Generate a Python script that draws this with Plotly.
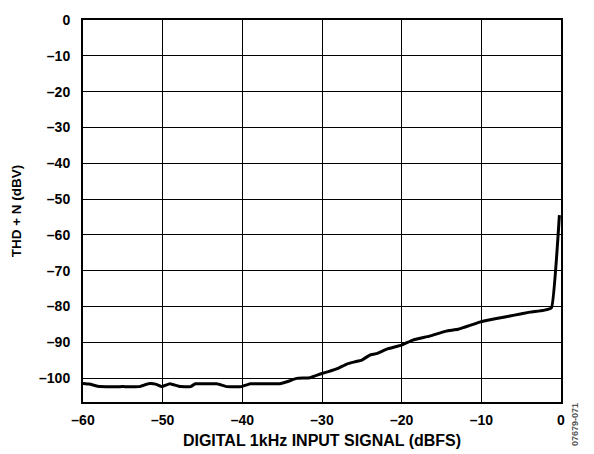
import plotly.graph_objects as go

x_dbfs = [-60, -59.2, -57.9, -55, -52.9, -51.8, -50.9, -50.1, -49.1, -47.8, -46.5, -45.9, -44.9, -43.2, -42, -40.1,
          -39, -37, -35.3, -34.2, -33.2, -31.5, -30.1, -29.2, -28, -26.9, -25.9, -25, -24, -23.2, -21.7,
          -20, -18.6, -16.5, -14.4, -12.9, -10.2, -8.1, -6, -3.9, -2.2, -1.2, -0.2]
thd_n = [-101.5, -101.7, -102.4, -102.4, -102.4, -101.6, -101.7, -102.4, -101.6, -102.4, -102.4, -101.6, -101.6, -101.6, -102.4, -102.4,
         -101.6, -101.6, -101.6, -100.9, -100.1, -99.9, -98.8, -98.2, -97.3, -96.1, -95.5, -95.0, -93.6, -93.2, -91.8,
         -90.8, -89.4, -88.3, -86.9, -86.4, -84.4, -83.4, -82.5, -81.6, -81.1, -80.4, -54.5]

x_ticks = [-60, -50, -40, -30, -20, -10, 0]
y_ticks = [0, -10, -20, -30, -40, -50, -60, -70, -80, -90, -100]

def lab(v):
    return "–%d" % -v if v else "0"

fig = go.Figure()
fig.add_trace(go.Scatter(x=x_dbfs, y=thd_n, mode="lines",
                         line=dict(color="black", width=3, shape="spline", smoothing=0.3),
                         showlegend=False))

fam = "Liberation Sans, Arial, sans-serif"
tickfont = dict(family=fam, size=14, color="black", weight="bold")
fig.update_layout(
    width=586, height=446,
    margin=dict(l=75, r=33, t=12, b=52, autoexpand=False),
    paper_bgcolor="white", plot_bgcolor="white",
    font=tickfont,
    xaxis=dict(range=[-60, 0], tickvals=x_ticks, ticktext=[lab(v) for v in x_ticks],
               showgrid=True, gridcolor="black", gridwidth=1, zeroline=False,
               showline=True, linecolor="black", linewidth=2, mirror=True, ticks="",
               automargin=False, tickfont=tickfont, ticklabelstandoff=4,
               title=dict(text="DIGITAL 1kHz INPUT SIGNAL (dBFS)", standoff=8,
                          font=dict(family=fam, size=16, color="black", weight="bold"))),
    yaxis=dict(range=[-106.7, 0], tickvals=y_ticks, ticktext=[lab(v) for v in y_ticks],
               showgrid=True, gridcolor="black", gridwidth=1, zeroline=False,
               showline=True, linecolor="black", linewidth=2, mirror=True, ticks="",
               automargin=False, tickfont=tickfont, ticklabelstandoff=8,
               title=dict(text="THD + N (dBV)", standoff=14,
                          font=dict(family=fam, size=13.5, color="black", weight="bold"))),
)
fig.add_annotation(text="07679-071", xref="paper", yref="paper", x=1.0, y=0.0,
                   xshift=14, yshift=-23, textangle=-90, showarrow=False, xanchor="center", yanchor="middle",
                   font=dict(family=fam, size=9, color="#555555"))
fig.write_html("out.html")
